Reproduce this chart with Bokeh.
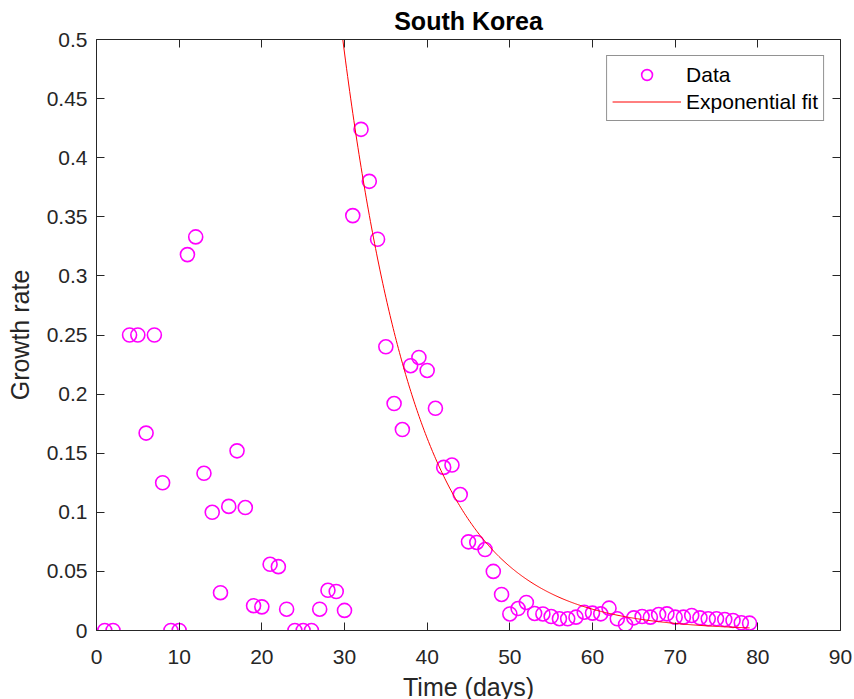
import numpy as np
from bokeh.plotting import figure
from bokeh.models import (LinearAxis, Range1d, FixedTicker, CustomJSTickFormatter,
                          Legend, LegendItem, ColumnDataSource)
from bokeh.embed import file_html
from bokeh.resources import INLINE

# ---- data ----
days = [1, 2, 4, 5, 6, 7, 8, 9, 10, 11, 12, 13, 14, 15, 16, 17, 18, 19, 20,
        21, 22, 23, 24, 25, 26, 27, 28, 29, 30, 31, 32, 33, 34, 35, 36, 37, 38,
        39, 40, 41, 42, 43, 44, 45, 46, 47, 48, 49, 50, 51, 52, 53, 54, 55, 56,
        57, 58, 59, 60, 61, 62, 63, 64, 65, 66, 67, 68, 69, 70, 71, 72, 73, 74,
        75, 76, 77, 78, 79]
growth = [0, 0, 0.25, 0.25, 0.167, 0.25, 0.125, 0, 0, 0.318, 0.333, 0.133, 0.1,
          0.032, 0.105, 0.152, 0.104, 0.021, 0.020, 0.056, 0.054, 0.018, 0, 0,
          0, 0.018, 0.034, 0.033, 0.017, 0.351, 0.424, 0.38, 0.331, 0.24, 0.192,
          0.17, 0.224, 0.231, 0.22, 0.188, 0.138, 0.140, 0.115, 0.075, 0.0745,
          0.0685, 0.050, 0.0305, 0.014, 0.0186, 0.0237, 0.0144, 0.014, 0.0118,
          0.010, 0.0099, 0.0113, 0.0155, 0.0147, 0.0141, 0.0189, 0.0099, 0.0051,
          0.0107, 0.0118, 0.0113, 0.0135, 0.0141, 0.0113, 0.0113, 0.0127, 0.0107,
          0.0099, 0.0099, 0.0093, 0.0085, 0.0065, 0.0062]

# exponential fit parameters (growth = a * exp(-k * t))
fit_a = 13.25
fit_k = 0.11
fit_t_start = 29
fit_t_end = 79

x_ticks = [0, 10, 20, 30, 40, 50, 60, 70, 80, 90]
y_ticks = [0, 0.05, 0.1, 0.15, 0.2, 0.25, 0.3, 0.35, 0.4, 0.45, 0.5]
y_tick_labels = ["0", "0.05", "0.1", "0.15", "0.2", "0.25", "0.3", "0.35",
                 "0.4", "0.45", "0.5"]

title_text = "South Korea"
x_label = "Time (days)"
y_label = "Growth rate"
legend_labels = ["Data", "Exponential fit"]

# ---- figure ----
FONT = "Liberation Sans"
AX = "#262626"

p = figure(frame_width=744, frame_height=591,
           x_range=Range1d(0, 90), y_range=Range1d(0, 0.5),
           output_backend="svg", toolbar_location=None,
           min_border_left=96, min_border_right=14,
           min_border_top=38, min_border_bottom=70,
           background_fill_color="white", border_fill_color="white",
           outline_line_color=None)

p.title.text = title_text
p.title.align = "center"
p.title.text_font = FONT
p.title.text_font_size = "25px"
p.title.text_font_style = "bold"
p.title.text_color = "#000000"
p.title.standoff = 9

p.xgrid.visible = False
p.ygrid.visible = False

fit_t = np.linspace(fit_t_start, fit_t_end, 400)
fit_y = fit_a * np.exp(-fit_k * fit_t)

src = ColumnDataSource(dict(x=days, y=growth))
r_data = p.scatter("x", "y", source=src, marker="circle", size=14,
                   fill_color=None, line_color="#FF00FF", line_width=1.6)
r_fit = p.line(fit_t, fit_y, line_color="#FF0000", line_width=1)

def style_axis(ax):
    ax.axis_line_color = AX
    ax.axis_line_width = 1
    ax.major_tick_line_color = AX
    ax.major_tick_in = 8
    ax.major_tick_out = 0
    ax.minor_tick_line_color = None
    ax.major_label_text_font = FONT
    ax.major_label_text_font_size = "21px"
    ax.major_label_text_color = AX
    ax.axis_label_text_font = FONT
    ax.axis_label_text_font_size = "25px"
    ax.axis_label_text_font_style = "normal"
    ax.axis_label_text_color = AX

xa = p.xaxis[0]
ya = p.yaxis[0]
style_axis(xa)
style_axis(ya)
xa.ticker = FixedTicker(ticks=x_ticks)
ya.ticker = FixedTicker(ticks=y_ticks)
ya.major_label_overrides = {t: l for t, l in zip(y_ticks, y_tick_labels)}
xa.axis_label = x_label
ya.axis_label = y_label
xa.major_label_standoff = 19
xa.axis_label_standoff = 6
ya.major_label_standoff = 9
ya.axis_label_standoff = 10

blank = CustomJSTickFormatter(code="return ''")
top = LinearAxis(ticker=FixedTicker(ticks=x_ticks), formatter=blank)
right = LinearAxis(ticker=FixedTicker(ticks=y_ticks), formatter=blank)
for ax in (top, right):
    style_axis(ax)
    ax.major_label_standoff = 0
p.add_layout(top, "above")
p.add_layout(right, "right")

legend = Legend(items=[LegendItem(label=legend_labels[0], renderers=[r_data]),
                       LegendItem(label=legend_labels[1], renderers=[r_fit])],
                location="top_right")
legend.margin = 16
legend.padding = 5
legend.spacing = 0
legend.glyph_width = 69
legend.glyph_height = 27
legend.label_height = 27
legend.label_standoff = 5
legend.label_text_font = FONT
legend.label_text_font_size = "21px"
legend.label_text_color = "#000000"
legend.border_line_color = AX
legend.border_line_width = 1
legend.background_fill_color = "white"
legend.background_fill_alpha = 1
p.add_layout(legend)

open("out.html", "w").write(file_html(p, INLINE))
